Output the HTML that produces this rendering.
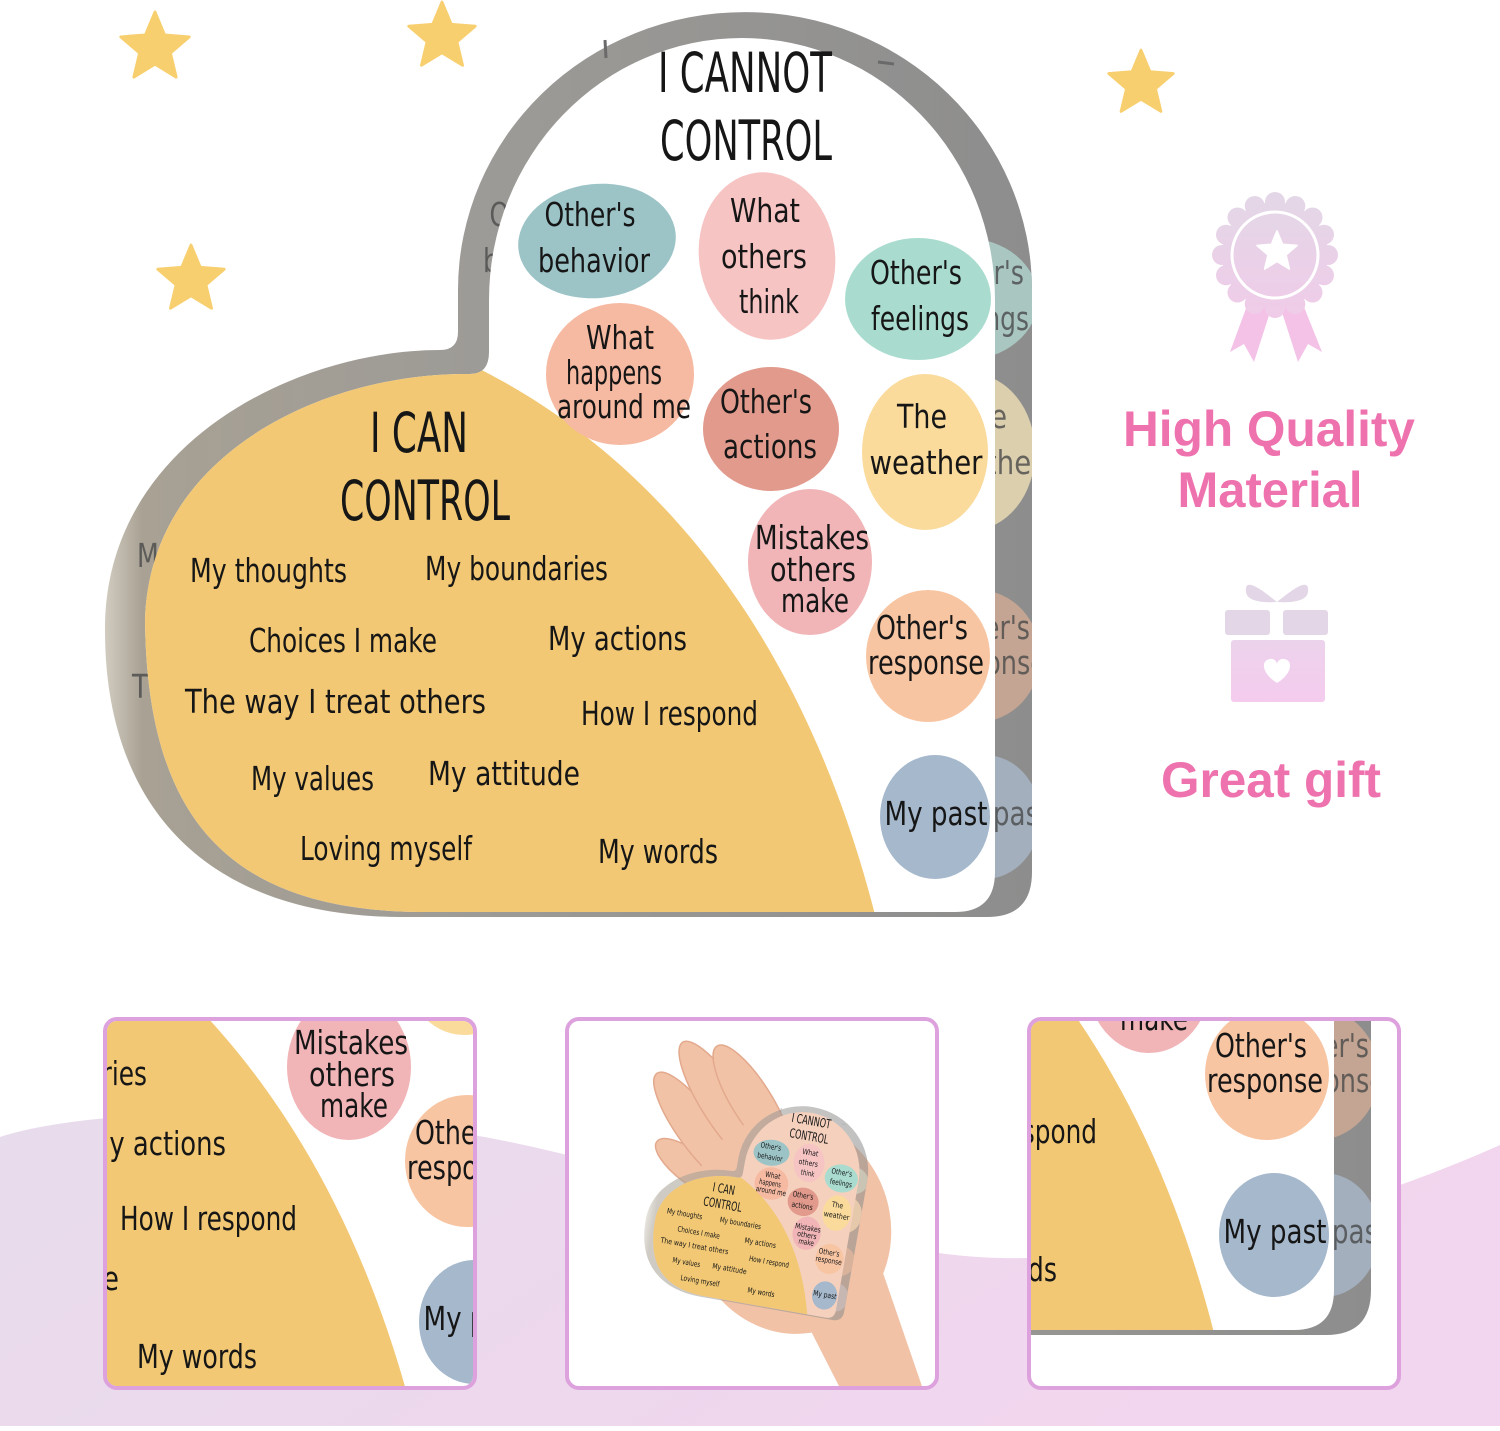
<!DOCTYPE html>
<html><head><meta charset="utf-8"><style>
html,body{margin:0;padding:0;background:#fff;}
body{width:1500px;height:1426px;overflow:hidden;}
.t text{font-family:"DejaVu Sans","Liberation Sans",sans-serif;fill:#161616;}
.g text{font-family:"DejaVu Sans","Liberation Sans",sans-serif;fill:#4a4a4a;opacity:.8;}
.p{font-family:"Liberation Sans",Arial,sans-serif;font-weight:bold;fill:#ee72ae;}
</style></head><body>
<svg width="1500" height="1426" viewBox="0 0 1500 1426" xmlns="http://www.w3.org/2000/svg">
<defs>
<linearGradient id="rimG" gradientUnits="userSpaceOnUse" x1="105" y1="0" x2="1032" y2="0">
<stop offset="0" stop-color="#d2ccc0"/><stop offset="0.04" stop-color="#a8a194"/><stop offset="0.4" stop-color="#9d9b97"/><stop offset="1" stop-color="#8d8d8d"/>
</linearGradient>
<linearGradient id="wave" x1="0" y1="0" x2="1" y2="0.3">
<stop offset="0" stop-color="#e7dcec"/><stop offset="1" stop-color="#f2d5ee"/>
</linearGradient>
<linearGradient id="badgeG" gradientUnits="userSpaceOnUse" x1="0" y1="195" x2="0" y2="320">
<stop offset="0" stop-color="#e3d7e7"/><stop offset="1" stop-color="#f0cbe8"/>
</linearGradient>
<linearGradient id="giftG" gradientUnits="userSpaceOnUse" x1="0" y1="640" x2="0" y2="702">
<stop offset="0" stop-color="#ecd3ec"/><stop offset="1" stop-color="#f5cbee"/>
</linearGradient>
<clipPath id="fc"><path d="M 489 300 A 253 262 0 0 1 995 300 L 995 872 Q 995 912 955 912 L 420 912 C 230 910 147 820 145 620 C 150 450 330 372 470 374 Q 489 374 489 352 Z"/></clipPath>
<clipPath id="oc"><path d="M 458 290 A 287 278 0 0 1 1032 290 L 1032 872 Q 1032 917 987 917 L 400 917 C 200 916 103 800 105 625 C 108 440 300 350 440 350 Q 458 350 458 332 Z"/></clipPath>
<clipPath id="c1"><rect x="107" y="1021" width="366" height="365" rx="10"/></clipPath>
<clipPath id="c2"><rect x="569" y="1021" width="366" height="365" rx="10"/></clipPath>
<clipPath id="c3"><rect x="1031" y="1021" width="366" height="365" rx="10"/></clipPath>
<polygon id="st" points="0,-1 0.265,-0.364 0.951,-0.309 0.428,0.139 0.588,0.809 0,0.45 -0.588,0.809 -0.428,0.139 -0.951,-0.309 -0.265,-0.364" stroke-linejoin="round"/>
<g id="rim">
<path d="M 458 290 A 287 278 0 0 1 1032 290 L 1032 872 Q 1032 917 987 917 L 400 917 C 200 916 103 800 105 625 C 108 440 300 350 440 350 Q 458 350 458 332 Z" fill="url(#rimG)"/>
<g clip-path="url(#oc)">
<ellipse cx="965" cy="299" rx="73" ry="61" fill="#a9c6c1"/>
<ellipse cx="972" cy="452" rx="63" ry="78" fill="#dccfae"/>
<ellipse cx="978" cy="656" rx="62" ry="66" fill="#c4a593"/>
<ellipse cx="985" cy="817" rx="55" ry="62" fill="#a3afbd"/>
</g>
<line x1="605" y1="40" x2="606" y2="58" stroke="#6a6a6a" stroke-width="3"/>
<line x1="878" y1="62" x2="894" y2="64" stroke="#6a6a6a" stroke-width="3"/>
</g>
<g id="face">
<path d="M 489 300 A 253 262 0 0 1 995 300 L 995 872 Q 995 912 955 912 L 420 912 C 230 910 147 820 145 620 C 150 450 330 372 470 374 Q 489 374 489 352 Z"/>
<g clip-path="url(#fc)"><path d="M 450 355 C 620 430 800 600 880 935 L 60 935 L 60 330 Z" fill="#f2c874"/></g>
<ellipse cx="597" cy="241" rx="79" ry="57" fill="#9cc4c7" transform="rotate(-6 597 241)"/>
<ellipse cx="767" cy="256" rx="68" ry="84" fill="#f7c4c4" transform="rotate(-8 767 256)"/>
<ellipse cx="918" cy="299" rx="73" ry="61" fill="#a9dccf"/>
<ellipse cx="620" cy="374" rx="74" ry="71" fill="#f6b9a1"/>
<ellipse cx="771" cy="429" rx="68" ry="62" fill="#e19a8c"/>
<ellipse cx="925" cy="452" rx="63" ry="78" fill="#fadb9c"/>
<ellipse cx="810" cy="562" rx="62" ry="73" fill="#f1b5b8"/>
<ellipse cx="928" cy="656" rx="62" ry="66" fill="#f8c5a3"/>
<ellipse cx="935" cy="817" rx="55" ry="62" fill="#a5b8cc"/>
</g>
</defs>

<!-- background wave -->
<path d="M0 1137 C 80 1110 300 1100 500 1140 C 700 1180 850 1255 1000 1258 C 1200 1262 1400 1190 1500 1145 L 1500 1426 L 0 1426 Z" fill="url(#wave)"/>

<!-- stars -->
<g fill="#f8cf6f" stroke="#f8cf6f" stroke-width="0.08">
<use href="#st" transform="translate(155 48) scale(36)"/>
<use href="#st" transform="translate(442 37) scale(35)"/>
<use href="#st" transform="translate(191 280) scale(35)"/>
<use href="#st" transform="translate(1141 84) scale(34)"/>
</g>

<!-- MAIN HEART -->
<use href="#rim"/>
<g class="g" clip-path="url(#oc)">
<text x="535" y="226" font-size="33" text-anchor="middle" textLength="91" lengthAdjust="spacingAndGlyphs">Other's</text>
<text x="539" y="272" font-size="33" text-anchor="middle" textLength="112" lengthAdjust="spacingAndGlyphs">behavior</text>
<text x="137" y="567" font-size="33" textLength="157" lengthAdjust="spacingAndGlyphs">My thoughts</text>
<text x="132" y="698" font-size="33" textLength="301" lengthAdjust="spacingAndGlyphs">The way I treat others</text>
<text x="978" y="284" font-size="33" text-anchor="middle" textLength="92" lengthAdjust="spacingAndGlyphs">Other's</text>
<text x="980" y="330" font-size="33" text-anchor="middle" textLength="98" lengthAdjust="spacingAndGlyphs">feelings</text>
<text x="982" y="428" font-size="33" text-anchor="middle" textLength="50" lengthAdjust="spacingAndGlyphs">The</text>
<text x="986" y="474" font-size="33" text-anchor="middle" textLength="113" lengthAdjust="spacingAndGlyphs">weather</text>
<text x="984" y="639" font-size="33" text-anchor="middle" textLength="92" lengthAdjust="spacingAndGlyphs">Other's</text>
<text x="988" y="674" font-size="33" text-anchor="middle" textLength="116" lengthAdjust="spacingAndGlyphs">response</text>
<text x="998" y="825" font-size="33" text-anchor="middle" textLength="103" lengthAdjust="spacingAndGlyphs">My past</text>
</g>
<use href="#face" fill="#fff"/>
<g class="t">
<text x="745" y="92" font-size="55" text-anchor="middle" textLength="174" lengthAdjust="spacingAndGlyphs">I CANNOT</text>
<text x="746" y="160" font-size="55" text-anchor="middle" textLength="172" lengthAdjust="spacingAndGlyphs">CONTROL</text>
<text x="419" y="452" font-size="55" text-anchor="middle" textLength="98" lengthAdjust="spacingAndGlyphs">I CAN</text>
<text x="425" y="520" font-size="55" text-anchor="middle" textLength="170" lengthAdjust="spacingAndGlyphs">CONTROL</text>
<text x="590" y="226" font-size="33" text-anchor="middle" textLength="91" lengthAdjust="spacingAndGlyphs">Other's</text>
<text x="594" y="272" font-size="33" text-anchor="middle" textLength="112" lengthAdjust="spacingAndGlyphs">behavior</text>
<text x="765" y="222" font-size="33" text-anchor="middle" textLength="70" lengthAdjust="spacingAndGlyphs">What</text>
<text x="764" y="268" font-size="33" text-anchor="middle" textLength="86" lengthAdjust="spacingAndGlyphs">others</text>
<text x="769" y="313" font-size="33" text-anchor="middle" textLength="60" lengthAdjust="spacingAndGlyphs">think</text>
<text x="916" y="284" font-size="33" text-anchor="middle" textLength="92" lengthAdjust="spacingAndGlyphs">Other's</text>
<text x="920" y="330" font-size="33" text-anchor="middle" textLength="98" lengthAdjust="spacingAndGlyphs">feelings</text>
<text x="620" y="349" font-size="33" text-anchor="middle" textLength="68" lengthAdjust="spacingAndGlyphs">What</text>
<text x="614" y="384" font-size="33" text-anchor="middle" textLength="96" lengthAdjust="spacingAndGlyphs">happens</text>
<text x="624" y="418" font-size="33" text-anchor="middle" textLength="134" lengthAdjust="spacingAndGlyphs">around me</text>
<text x="766" y="413" font-size="33" text-anchor="middle" textLength="92" lengthAdjust="spacingAndGlyphs">Other's</text>
<text x="770" y="458" font-size="33" text-anchor="middle" textLength="94" lengthAdjust="spacingAndGlyphs">actions</text>
<text x="922" y="428" font-size="33" text-anchor="middle" textLength="50" lengthAdjust="spacingAndGlyphs">The</text>
<text x="926" y="474" font-size="33" text-anchor="middle" textLength="113" lengthAdjust="spacingAndGlyphs">weather</text>
<text x="812" y="549" font-size="33" text-anchor="middle" textLength="114" lengthAdjust="spacingAndGlyphs">Mistakes</text>
<text x="813" y="581" font-size="33" text-anchor="middle" textLength="86" lengthAdjust="spacingAndGlyphs">others</text>
<text x="815" y="612" font-size="33" text-anchor="middle" textLength="68" lengthAdjust="spacingAndGlyphs">make</text>
<text x="922" y="639" font-size="33" text-anchor="middle" textLength="92" lengthAdjust="spacingAndGlyphs">Other's</text>
<text x="926" y="674" font-size="33" text-anchor="middle" textLength="116" lengthAdjust="spacingAndGlyphs">response</text>
<text x="936" y="825" font-size="33" text-anchor="middle" textLength="103" lengthAdjust="spacingAndGlyphs">My past</text>
<text x="190" y="582" font-size="33" textLength="157" lengthAdjust="spacingAndGlyphs">My thoughts</text>
<text x="425" y="580" font-size="33" textLength="183" lengthAdjust="spacingAndGlyphs">My boundaries</text>
<text x="249" y="652" font-size="33" textLength="188" lengthAdjust="spacingAndGlyphs">Choices I make</text>
<text x="548" y="650" font-size="33" textLength="139" lengthAdjust="spacingAndGlyphs">My actions</text>
<text x="185" y="713" font-size="33" textLength="301" lengthAdjust="spacingAndGlyphs">The way I treat others</text>
<text x="581" y="725" font-size="33" textLength="177" lengthAdjust="spacingAndGlyphs">How I respond</text>
<text x="251" y="790" font-size="33" textLength="123" lengthAdjust="spacingAndGlyphs">My values</text>
<text x="428" y="785" font-size="33" textLength="152" lengthAdjust="spacingAndGlyphs">My attitude</text>
<text x="300" y="860" font-size="33" textLength="172" lengthAdjust="spacingAndGlyphs">Loving myself</text>
<text x="598" y="863" font-size="33" textLength="120" lengthAdjust="spacingAndGlyphs">My words</text>
</g>

<!-- RIGHT: badge -->
<g fill="#f3c2e6">
<polygon points="1252,292 1272,306 1254,362 1244,344 1230,352"/>
<polygon points="1298,292 1280,306 1298,362 1308,344 1322,352"/>
</g>
<g fill="url(#badgeG)">
<circle cx="1275" cy="255" r="53"/>
<circle cx="1328" cy="255" r="10"/><circle cx="1324" cy="275.3" r="10"/><circle cx="1312.5" cy="292.5" r="10"/><circle cx="1295.3" cy="304" r="10"/>
<circle cx="1275" cy="308" r="10"/><circle cx="1254.7" cy="304" r="10"/><circle cx="1237.5" cy="292.5" r="10"/><circle cx="1226" cy="275.3" r="10"/>
<circle cx="1222" cy="255" r="10"/><circle cx="1226" cy="234.7" r="10"/><circle cx="1237.5" cy="217.5" r="10"/><circle cx="1254.7" cy="206" r="10"/>
<circle cx="1275" cy="202" r="10"/><circle cx="1295.3" cy="206" r="10"/><circle cx="1312.5" cy="217.5" r="10"/><circle cx="1324" cy="234.7" r="10"/>
</g>
<circle cx="1275" cy="255" r="43" fill="none" stroke="#fff" stroke-width="3"/>
<use href="#st" transform="translate(1277 252) scale(21)" fill="#fff" stroke="#fff" stroke-width="0.08"/>

<text class="p" x="1269" y="446" font-size="50" text-anchor="middle" textLength="292" lengthAdjust="spacingAndGlyphs">High Quality</text>
<text class="p" x="1270" y="507" font-size="50" text-anchor="middle" textLength="185" lengthAdjust="spacingAndGlyphs">Material</text>

<!-- gift -->
<g fill="#e3d6e6">
<path d="M1277 602 C 1262 590 1244 576 1246 592 C 1247 601 1262 603 1277 602 Z"/>
<path d="M1277 602 C 1292 590 1310 576 1308 592 C 1307 601 1292 603 1277 602 Z"/>
<rect x="1225" y="610" width="45" height="25" rx="3"/>
<rect x="1283" y="610" width="45" height="25" rx="3"/>
</g>
<rect x="1231" y="640" width="94" height="62" rx="3" fill="url(#giftG)"/>
<path d="M1277 683 C 1261 673 1261 660 1270 659 C 1274 658 1277 662 1277 664 C 1277 662 1280 658 1284 659 C 1293 660 1293 673 1277 683 Z" fill="#fff"/>

<text class="p" x="1271" y="797" font-size="50" text-anchor="middle" textLength="220" lengthAdjust="spacingAndGlyphs">Great gift</text>

<!-- PANEL 1 -->
<rect x="105" y="1019" width="370" height="369" rx="12" fill="#fff"/>
<g clip-path="url(#c1)">
<g transform="translate(-461 505)">
<use href="#rim"/>
<use href="#face" fill="#fff"/>
<g class="t">
<text x="425" y="580" font-size="33" textLength="183" lengthAdjust="spacingAndGlyphs">My boundaries</text>
<text x="548" y="650" font-size="33" textLength="139" lengthAdjust="spacingAndGlyphs">My actions</text>
<text x="581" y="725" font-size="33" textLength="177" lengthAdjust="spacingAndGlyphs">How I respond</text>
<text x="428" y="785" font-size="33" textLength="152" lengthAdjust="spacingAndGlyphs">My attitude</text>
<text x="598" y="863" font-size="33" textLength="120" lengthAdjust="spacingAndGlyphs">My words</text>
<text x="812" y="549" font-size="33" text-anchor="middle" textLength="114" lengthAdjust="spacingAndGlyphs">Mistakes</text>
<text x="813" y="581" font-size="33" text-anchor="middle" textLength="86" lengthAdjust="spacingAndGlyphs">others</text>
<text x="815" y="612" font-size="33" text-anchor="middle" textLength="68" lengthAdjust="spacingAndGlyphs">make</text>
<text x="922" y="639" font-size="33" text-anchor="middle" textLength="92" lengthAdjust="spacingAndGlyphs">Other's</text>
<text x="926" y="674" font-size="33" text-anchor="middle" textLength="116" lengthAdjust="spacingAndGlyphs">response</text>
<text x="936" y="825" font-size="33" text-anchor="middle" textLength="103" lengthAdjust="spacingAndGlyphs">My past</text>
</g>
</g>
</g>
<rect x="105" y="1019" width="370" height="369" rx="12" fill="none" stroke="#dda2dd" stroke-width="4"/>

<!-- PANEL 2 -->
<rect x="567" y="1019" width="370" height="369" rx="12" fill="#fff"/>
<g clip-path="url(#c2)">
<g fill="#f1c2a6" stroke="#e3a98d" stroke-width="1.5">
<path d="M 790 1290 L 882 1270 L 924 1392 L 842 1392 Z" stroke="none"/>
<ellipse cx="692" cy="1168" rx="16" ry="44" transform="rotate(-53 692 1168)"/>
<ellipse cx="698" cy="1130" rx="20" ry="70" transform="rotate(-36 698 1130)"/>
<ellipse cx="724" cy="1106" rx="21" ry="76" transform="rotate(-33 724 1106)"/>
<ellipse cx="752" cy="1102" rx="20" ry="66" transform="rotate(-32 752 1102)"/>
<ellipse cx="790" cy="1225" rx="100" ry="110" transform="rotate(-20 790 1225)" stroke="none"/>
</g>
<g transform="translate(647 1075) rotate(10) scale(0.228)">
<use href="#rim" opacity="0.55"/>
<use href="#face" fill="#f5d0bd"/>
<g class="t">
<text x="745" y="92" font-size="55" text-anchor="middle" textLength="174" lengthAdjust="spacingAndGlyphs">I CANNOT</text>
<text x="746" y="160" font-size="55" text-anchor="middle" textLength="172" lengthAdjust="spacingAndGlyphs">CONTROL</text>
<text x="419" y="452" font-size="55" text-anchor="middle" textLength="98" lengthAdjust="spacingAndGlyphs">I CAN</text>
<text x="425" y="520" font-size="55" text-anchor="middle" textLength="170" lengthAdjust="spacingAndGlyphs">CONTROL</text>
<text x="590" y="226" font-size="33" text-anchor="middle" textLength="91" lengthAdjust="spacingAndGlyphs">Other's</text>
<text x="594" y="272" font-size="33" text-anchor="middle" textLength="112" lengthAdjust="spacingAndGlyphs">behavior</text>
<text x="765" y="222" font-size="33" text-anchor="middle" textLength="70" lengthAdjust="spacingAndGlyphs">What</text>
<text x="764" y="268" font-size="33" text-anchor="middle" textLength="86" lengthAdjust="spacingAndGlyphs">others</text>
<text x="769" y="313" font-size="33" text-anchor="middle" textLength="60" lengthAdjust="spacingAndGlyphs">think</text>
<text x="916" y="284" font-size="33" text-anchor="middle" textLength="92" lengthAdjust="spacingAndGlyphs">Other's</text>
<text x="920" y="330" font-size="33" text-anchor="middle" textLength="98" lengthAdjust="spacingAndGlyphs">feelings</text>
<text x="620" y="349" font-size="33" text-anchor="middle" textLength="68" lengthAdjust="spacingAndGlyphs">What</text>
<text x="614" y="384" font-size="33" text-anchor="middle" textLength="96" lengthAdjust="spacingAndGlyphs">happens</text>
<text x="624" y="418" font-size="33" text-anchor="middle" textLength="134" lengthAdjust="spacingAndGlyphs">around me</text>
<text x="766" y="413" font-size="33" text-anchor="middle" textLength="92" lengthAdjust="spacingAndGlyphs">Other's</text>
<text x="770" y="458" font-size="33" text-anchor="middle" textLength="94" lengthAdjust="spacingAndGlyphs">actions</text>
<text x="922" y="428" font-size="33" text-anchor="middle" textLength="50" lengthAdjust="spacingAndGlyphs">The</text>
<text x="926" y="474" font-size="33" text-anchor="middle" textLength="113" lengthAdjust="spacingAndGlyphs">weather</text>
<text x="812" y="549" font-size="33" text-anchor="middle" textLength="114" lengthAdjust="spacingAndGlyphs">Mistakes</text>
<text x="813" y="581" font-size="33" text-anchor="middle" textLength="86" lengthAdjust="spacingAndGlyphs">others</text>
<text x="815" y="612" font-size="33" text-anchor="middle" textLength="68" lengthAdjust="spacingAndGlyphs">make</text>
<text x="922" y="639" font-size="33" text-anchor="middle" textLength="92" lengthAdjust="spacingAndGlyphs">Other's</text>
<text x="926" y="674" font-size="33" text-anchor="middle" textLength="116" lengthAdjust="spacingAndGlyphs">response</text>
<text x="936" y="825" font-size="33" text-anchor="middle" textLength="103" lengthAdjust="spacingAndGlyphs">My past</text>
<text x="190" y="582" font-size="33" textLength="157" lengthAdjust="spacingAndGlyphs">My thoughts</text>
<text x="425" y="580" font-size="33" textLength="183" lengthAdjust="spacingAndGlyphs">My boundaries</text>
<text x="249" y="652" font-size="33" textLength="188" lengthAdjust="spacingAndGlyphs">Choices I make</text>
<text x="548" y="650" font-size="33" textLength="139" lengthAdjust="spacingAndGlyphs">My actions</text>
<text x="185" y="713" font-size="33" textLength="301" lengthAdjust="spacingAndGlyphs">The way I treat others</text>
<text x="581" y="725" font-size="33" textLength="177" lengthAdjust="spacingAndGlyphs">How I respond</text>
<text x="251" y="790" font-size="33" textLength="123" lengthAdjust="spacingAndGlyphs">My values</text>
<text x="428" y="785" font-size="33" textLength="152" lengthAdjust="spacingAndGlyphs">My attitude</text>
<text x="300" y="860" font-size="33" textLength="172" lengthAdjust="spacingAndGlyphs">Loving myself</text>
<text x="598" y="863" font-size="33" textLength="120" lengthAdjust="spacingAndGlyphs">My words</text>
</g>
</g>
</g>
<rect x="567" y="1019" width="370" height="369" rx="12" fill="none" stroke="#dda2dd" stroke-width="4"/>

<!-- PANEL 3 -->
<rect x="1029" y="1019" width="370" height="369" rx="12" fill="#fff"/>
<g clip-path="url(#c3)">
<g transform="translate(339 418)">
<use href="#rim"/>
<g class="g" clip-path="url(#oc)">
<text x="984" y="639" font-size="33" text-anchor="middle" textLength="92" lengthAdjust="spacingAndGlyphs">Other's</text>
<text x="988" y="674" font-size="33" text-anchor="middle" textLength="116" lengthAdjust="spacingAndGlyphs">response</text>
<text x="998" y="825" font-size="33" text-anchor="middle" textLength="103" lengthAdjust="spacingAndGlyphs">My past</text>
</g>
<use href="#face" fill="#fff"/>
<g class="t">
<text x="815" y="612" font-size="33" text-anchor="middle" textLength="68" lengthAdjust="spacingAndGlyphs">make</text>
<text x="922" y="639" font-size="33" text-anchor="middle" textLength="92" lengthAdjust="spacingAndGlyphs">Other's</text>
<text x="926" y="674" font-size="33" text-anchor="middle" textLength="116" lengthAdjust="spacingAndGlyphs">response</text>
<text x="936" y="825" font-size="33" text-anchor="middle" textLength="103" lengthAdjust="spacingAndGlyphs">My past</text>
<text x="581" y="725" font-size="33" textLength="177" lengthAdjust="spacingAndGlyphs">How I respond</text>
<text x="598" y="863" font-size="33" textLength="120" lengthAdjust="spacingAndGlyphs">My words</text>
</g>
</g>
</g>
<rect x="1029" y="1019" width="370" height="369" rx="12" fill="none" stroke="#dda2dd" stroke-width="4"/>
</svg>
</body></html>
